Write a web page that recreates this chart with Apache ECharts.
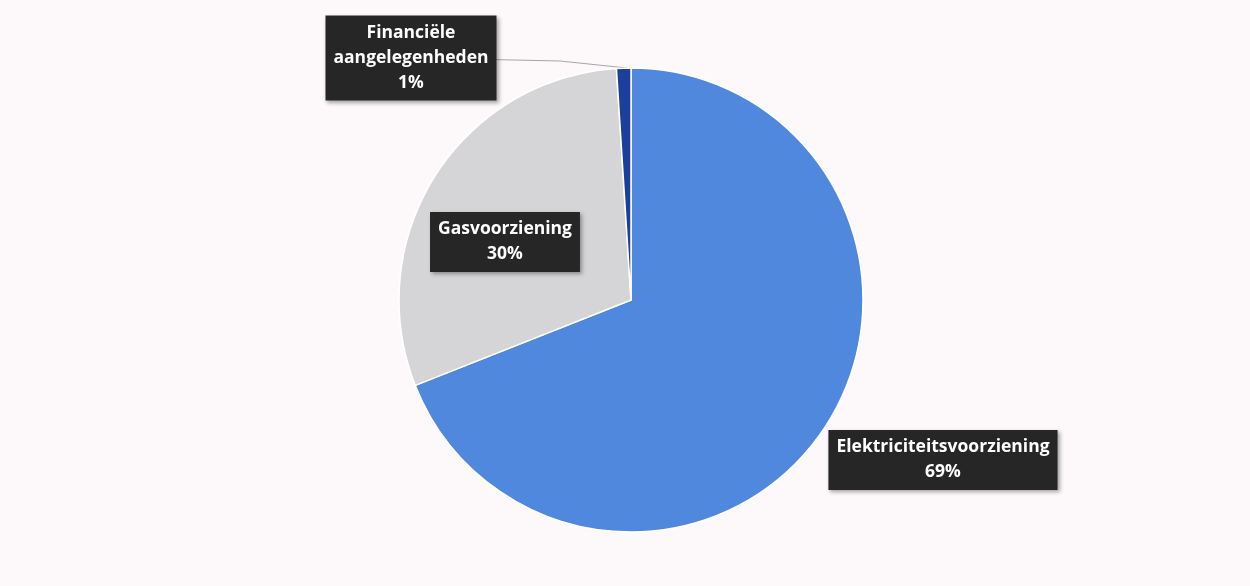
<!DOCTYPE html>
<html><head><meta charset="utf-8">
<script src="https://cdn.jsdelivr.net/npm/echarts@6/dist/echarts.min.js"></script>
<style>html,body{margin:0;padding:0;background:#fdf9fb}#c{width:1250px;height:586px}</style>
</head><body><div id="c"></div>
<script>
const categories = ['Elektriciteitsvoorziening', 'Gasvoorziening', 'Financiële\naangelegenheden'];
const values = [69, 30, 1];
const colors = ['#4f88dc', '#d5d5d7', '#1c3f9e'];
// label box anchor positions (centre of each box)
const labelPos = [[943, 460], [505, 242], [411, 58]];

const chart = echarts.init(document.getElementById('c'));
chart.setOption({
  backgroundColor: '#fdf9fb',
  animation: false,
  series: [{
    type: 'pie',
    center: [631, 300],
    radius: 232,
    startAngle: 90,
    clockwise: true,
    itemStyle: { borderColor: '#ffffff', borderWidth: 1.5 },
    label: {
      show: true,
      position: 'outside',
      formatter: p => p.name + '\n' + p.value + '%',
      fontFamily: 'Open Sans',
      fontWeight: 'bold',
      fontSize: 17.5,
      lineHeight: 25,
      color: '#ffffff',
      backgroundColor: '#262626',
      padding: [5, 8, 5, 8],
      align: 'center',
      shadowColor: 'rgba(0,0,0,0.35)',
      shadowBlur: 4,
      shadowOffsetX: 2,
      shadowOffsetY: 2
    },
    labelLine: { show: true, lineStyle: { color: '#a6a6a6', width: 1 } },
    labelLayout: function (params) {
      const i = params.dataIndex;
      const r = params.rect;
      const res = {
        x: labelPos[i][0],
        y: labelPos[i][1],
        align: 'center',
        verticalAlign: 'middle'
      };
      if (i === 2) {
        res.labelLinePoints = [[labelPos[i][0] + r.width / 2, labelPos[i][1]], [560, 61], [627, 68]];
      }
      return res;
    },
    data: categories.map((c, i) => ({
      name: c,
      value: values[i],
      itemStyle: { color: colors[i] },
      labelLine: { show: i === 2 }
    }))
  }]
});
</script></body></html>
